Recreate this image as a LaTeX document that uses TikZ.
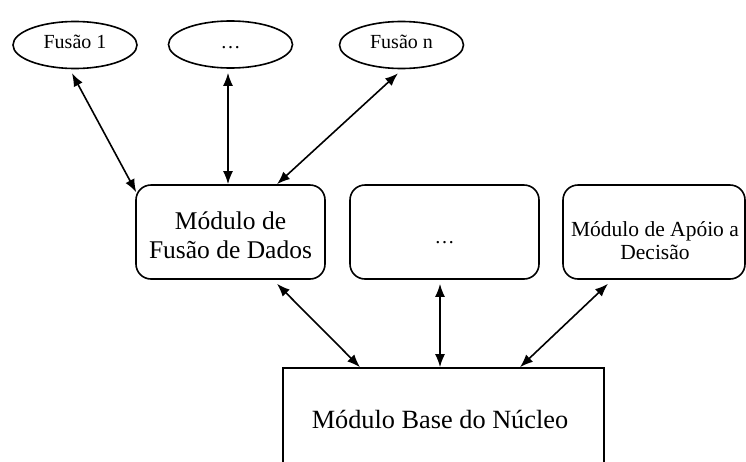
\documentclass[tikz,border=0pt]{standalone}
\usepackage{fontspec}
\setmainfont{Liberation Serif}
\usetikzlibrary{arrows.meta,calc,shapes.geometric}
\begin{document}
\begin{tikzpicture}[x=1pt,y=-1pt,
  shapeline/.style={draw=black, line width=1.6pt},
  oval/.style={shapeline, ellipse, minimum width=124pt, minimum height=47pt, inner sep=0pt},
  rbox/.style={shapeline, rectangle, rounded corners=15pt, minimum width=189pt, minimum height=94pt, inner sep=0pt},
  basebox/.style={shapeline, rectangle, minimum width=321pt, minimum height=100pt, inner sep=0pt},
  arr/.style={line width=1.6pt, {Latex[length=13pt,width=10pt]}-{Latex[length=13pt,width=10pt]}},
  ovaltext/.style={inner sep=0pt, anchor=base, font=\fontsize{20}{24}\selectfont},
  bigtext/.style={inner sep=0pt, align=center, font=\fontsize{25.5}{29}\selectfont},
  midtext/.style={inner sep=0pt, align=center, font=\fontsize{21.5}{23}\selectfont},
  basetext/.style={inner sep=0pt, anchor=base, font=\fontsize{26.3}{30}\selectfont}
]
\useasboundingbox (0,0) rectangle (746,461);
\clip (0,0) rectangle (746,461);

% top ellipses
\node[oval] (f1) at (75,45) {};
\node[oval] (f2) at (230.5,44.5) {};
\node[oval] (f3) at (401.5,45) {};
\node[ovaltext] (t1) at (75,48) {Fusão 1};
\node[ovaltext] (t2) at (230.5,48) {…};
\node[ovaltext] (t3) at (401.5,48) {Fusão n};

% middle boxes
\node[rbox] (b1) at (230.5,232) {};
\node[rbox] (b2) at (444.5,232) {};
\node[rbox, minimum width=182pt] (b3) at (654,232) {};
\node[bigtext] (tb1) at (230.5,235.7) {Módulo de\\Fusão de Dados};
\node[ovaltext] (tb2) at (444.5,243) {…};
\node[midtext] (tb3) at (655,241) {Módulo de Apóio a\\Decisão};

% base box
\node[basebox] (B) at (443.5,418) {};
\node[basetext] (tB) at (440,428) {Módulo Base do Núcleo};

% connectors
\draw[arr] ($(f1.south)+(-3,4)$) -- ($(b1.north west)+(1,8)$);
\draw[arr] ($(f2.south)+(-2.5,4)$) -- ($(b1.north)+(-2.5,0)$);
\draw[arr] ($(f3.south)+(-3.5,4)$) -- ($(b1.north)+(46.5,0)$);
\draw[arr] ($(b1.south)+(46.5,4)$) -- ($(B.north)+(-83.5,0)$);
\draw[arr] ($(b2.south)+(-4.5,4)$) -- ($(B.north)+(-3.5,0)$);
\draw[arr] ($(b3.south)+(-46,4)$) -- ($(B.north)+(76.5,0)$);
\end{tikzpicture}
\end{document}
